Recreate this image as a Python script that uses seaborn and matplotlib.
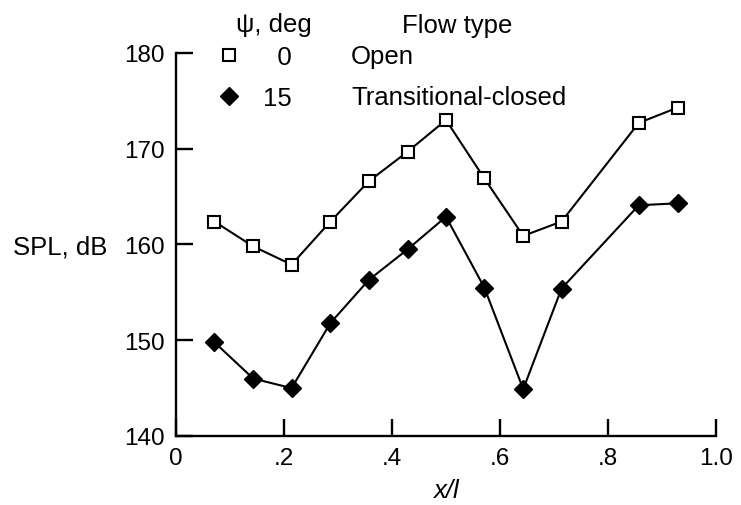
import matplotlib
matplotlib.use("Agg")
import matplotlib.pyplot as plt
import seaborn as sns
from matplotlib.lines import Line2D

# Axial station and measured sound pressure level for the two yaw angles
x_over_l = [0.071, 0.143, 0.214, 0.286, 0.357, 0.429, 0.500,
            0.571, 0.643, 0.714, 0.857, 0.929]
spl_open = [162.4, 159.8, 157.9, 162.4, 166.6, 169.7, 173.0,
            166.9, 160.9, 162.4, 172.7, 174.3]
spl_closed = [149.8, 146.0, 145.0, 151.8, 156.3, 159.5, 162.9,
              155.5, 144.9, 155.4, 164.1, 164.3]

psi_values = ["0", "15"]
flow_types = ["Open", "Transitional-closed"]
x_ticks = [0, 0.2, 0.4, 0.6, 0.8, 1.0]
x_tick_labels = ["0", ".2", ".4", ".6", ".8", "1.0"]
y_ticks = [140, 150, 160, 170, 180]

sns.set_style("ticks")
plt.rcParams["font.family"] = ["Liberation Sans", "DejaVu Sans"]
for key in ("text.color", "axes.labelcolor", "xtick.color", "ytick.color",
            "axes.edgecolor"):
    plt.rcParams[key] = "black"
FS = 17.5     # axis numbers and labels
FS_KEY = 18.5  # key text

W, H = 741, 506
fig = plt.figure(figsize=(W / 100, H / 100), dpi=100)
ax = fig.add_axes([176 / W, 1 - 437 / H, 540 / W, 383 / H])

sq_style = dict(marker="s", markersize=8, markerfacecolor="white",
                markeredgecolor="black", markeredgewidth=1.5)
dm_style = dict(marker="D", markersize=9.5, markerfacecolor="black",
                markeredgecolor="black", markeredgewidth=1.0)

sns.lineplot(x=x_over_l, y=spl_open, ax=ax, color="black", linewidth=1.5,
             sort=False, legend=False, **sq_style)
sns.lineplot(x=x_over_l, y=spl_closed, ax=ax, color="black", linewidth=1.5,
             sort=False, legend=False, **dm_style)

ax.set_xlim(0, 1.0)
ax.set_ylim(140, 180)
ax.set_xticks(x_ticks)
ax.set_xticklabels(x_tick_labels)
ax.set_yticks(y_ticks)
ax.set_xlabel("")
ax.set_ylabel("")
for side in ("top", "right"):
    ax.spines[side].set_visible(False)
for side in ("left", "bottom"):
    ax.spines[side].set_linewidth(1.7)
ax.tick_params(direction="in", length=12, width=1.7, labelsize=FS, pad=8,
               colors="black")

fig.text(13 / W, 1 - 247 / H, "SPL, dB", ha="left", va="center",
         fontsize=FS_KEY)
fig.text(446 / W, 1 - 498 / H, "x/l", ha="center", va="baseline",
         fontsize=FS_KEY, style="italic")

# Key: marker and yaw angle, with the flow type in a second column
handles = [Line2D([], [], linestyle="none", **sq_style),
           Line2D([], [], linestyle="none", **dm_style)]
width = max(len(v) for v in psi_values)
labels = [v.rjust(width, "\u2007") for v in psi_values]
fig.legend(handles, labels, loc="upper left",
           bbox_to_anchor=(217 / W, 1 - 46 / H), frameon=False,
           fontsize=FS_KEY, handlelength=0.95, handletextpad=0.85,
           labelspacing=0.68, borderaxespad=0, borderpad=0)

fig.text(274 / W, 1 - 32 / H, "\u03c8, deg", ha="center", va="baseline",
         fontsize=FS_KEY)
fig.text(457 / W, 1 - 33 / H, "Flow type", ha="center", va="baseline",
         fontsize=FS_KEY)
fig.text(351 / W, 1 - 64 / H, flow_types[0], ha="left", va="baseline",
         fontsize=FS_KEY)
fig.text(351 / W, 1 - 105 / H, flow_types[1], ha="left", va="baseline",
         fontsize=FS_KEY)

fig.savefig("out.png", dpi=100, facecolor="white")
